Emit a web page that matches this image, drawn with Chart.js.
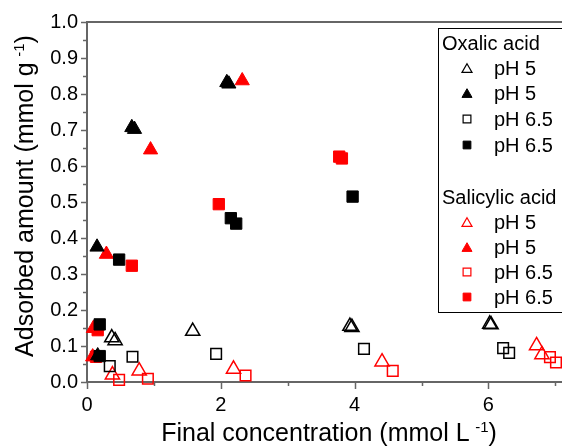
<!DOCTYPE html>
<html><head><meta charset="utf-8">
<script src="https://cdn.jsdelivr.net/npm/chart.js@4"></script>
<style>html,body{margin:0;padding:0;background:#fff}#wrap{width:562px;height:448px;position:relative}</style>
</head><body><div id="wrap"><canvas id="c" width="562" height="448"></canvas></div>
<script>
// ---- data ----
const xTickLabels = ['0', '2', '4', '6'];
const yTickLabels = ['0.0','0.1','0.2','0.3','0.4','0.5','0.6','0.7','0.8','0.9','1.0'];
const xTitle = 'Final concentration (mmol L';
const yTitle = 'Adsorbed amount (mmol g';
const titleSup = '-1';
const legendGroups = ['Oxalic acid', 'Salicylic acid'];
const seriesLabels = ['pH 5', 'pH 5', 'pH 6.5', 'pH 6.5'];

const oxPH5OpenX   = [0.37, 0.42, 1.58, 3.93, 3.96, 6.02, 6.04];
const oxPH5OpenY   = [0.123, 0.115, 0.141, 0.155, 0.152, 0.161, 0.159];
const oxPH5FillX   = [0.16, 0.15, 0.67, 0.71, 2.09, 2.12];
const oxPH5FillY   = [0.073, 0.375, 0.707, 0.702, 0.832, 0.828];
const oxPH65OpenX  = [0.34, 0.68, 1.93, 4.14, 6.22, 6.31];
const oxPH65OpenY  = [0.044, 0.070, 0.078, 0.092, 0.094, 0.081];
const oxPH65FillX  = [0.19, 0.19, 0.48, 2.15, 2.23, 3.97];
const oxPH65FillY  = [0.160, 0.072, 0.340, 0.455, 0.440, 0.515];

const saPH5OpenX   = [0.38, 0.78, 2.19, 4.41, 6.72, 6.80];
const saPH5OpenY   = [0.020, 0.031, 0.036, 0.056, 0.101, 0.076];
const saPH5FillX   = [0.085, 0.095, 0.29, 0.95, 2.32];
const saPH5FillY   = [0.070, 0.149, 0.355, 0.645, 0.837];
const saPH65OpenX  = [0.48, 0.91, 2.37, 4.57, 6.92, 7.01];
const saPH65OpenY  = [0.006, 0.009, 0.018, 0.031, 0.069, 0.054];
const saPH65FillX  = [0.135, 0.16, 0.67, 1.97, 3.77, 3.81];
const saPH65FillY  = [0.070, 0.144, 0.323, 0.494, 0.626, 0.621];

// ---- styling ----
const FONT = '"Liberation Sans", Arial, sans-serif';
const AXIS = '#666666';
const BLACK = '#000000';
const RED = '#ff0000';
const NONE = 'rgba(0,0,0,0)';

function pts(xs, ys) { return xs.map((x, i) => ({ x: x, y: ys[i] })); }

function ds(label, xs, ys, style, color, filled) {
  const r = style === 'triangle' ? 8.2 : (filled ? 8 : 7.5);
  return {
    label: label,
    data: pts(xs, ys),
    showLine: false,
    pointStyle: style,
    pointRadius: r,
    pointHoverRadius: r,
    pointBorderWidth: filled ? 1 : 1.5,
    borderColor: color,
    backgroundColor: filled ? color : NONE,
    clip: false
  };
}

const datasets = [
  ds('Oxalic acid ' + seriesLabels[0], oxPH5OpenX, oxPH5OpenY, 'triangle', BLACK, false),
  ds('Oxalic acid ' + seriesLabels[1], oxPH5FillX, oxPH5FillY, 'triangle', BLACK, true),
  ds('Oxalic acid ' + seriesLabels[2], oxPH65OpenX, oxPH65OpenY, 'rect', BLACK, false),
  ds('Oxalic acid ' + seriesLabels[3], oxPH65FillX, oxPH65FillY, 'rect', BLACK, true),
  ds('Salicylic acid ' + seriesLabels[0], saPH5OpenX, saPH5OpenY, 'triangle', RED, false),
  ds('Salicylic acid ' + seriesLabels[1], saPH5FillX, saPH5FillY, 'triangle', RED, true),
  ds('Salicylic acid ' + seriesLabels[2], saPH65OpenX, saPH65OpenY, 'rect', RED, false),
  ds('Salicylic acid ' + seriesLabels[3], saPH65FillX, saPH65FillY, 'rect', RED, true)
];

function drawSupTitle(ctx, main, sup, x, y, rotate) {
  ctx.save();
  ctx.translate(x, y);
  if (rotate) ctx.rotate(-Math.PI / 2);
  ctx.fillStyle = '#000';
  ctx.textBaseline = 'alphabetic';
  ctx.textAlign = 'left';
  const big = '25px ' + FONT, small = '15px ' + FONT;
  ctx.font = big;
  const w1 = ctx.measureText(main).width;
  const wSp = ctx.measureText(' ').width * 0.8;
  const wClose = ctx.measureText(')').width;
  ctx.font = small;
  const wSup = ctx.measureText(sup).width;
  const total = w1 + wSp + wSup + wClose;
  let cx = -total / 2;
  ctx.font = big;
  ctx.fillText(main, cx, 0);
  cx += w1 + wSp;
  ctx.font = small;
  ctx.fillText(sup, cx, -9);
  cx += wSup;
  ctx.font = big;
  ctx.fillText(')', cx, 0);
  ctx.restore();
}

const decoPlugin = {
  id: 'deco',
  afterDraw(chart) {
    const ctx = chart.ctx, a = chart.chartArea;
    const xs = chart.scales.x, ys = chart.scales.y;
    ctx.save();
    ctx.strokeStyle = AXIS;
    ctx.lineWidth = 2;
    // top frame line
    ctx.beginPath(); ctx.moveTo(a.left - 1, a.top); ctx.lineTo(a.right, a.top); ctx.stroke();
    ctx.lineWidth = 1.5;
    // x ticks (major every 2, minor every 1)
    for (let v = 0; v <= 7; v += 1) {
      const px = Math.round(xs.getPixelForValue(v)) + 0.5;
      const len = (v % 2 === 0) ? 7 : 4;
      ctx.beginPath(); ctx.moveTo(px, a.bottom); ctx.lineTo(px, a.bottom + len); ctx.stroke();
    }
    // y ticks (major every 0.1, minor every 0.05)
    for (let i = 0; i <= 20; i++) {
      const py = Math.round(ys.getPixelForValue(i * 0.05)) + 0.5;
      const len = (i % 2 === 0) ? 6 : 4;
      ctx.beginPath(); ctx.moveTo(a.left, py); ctx.lineTo(a.left - len, py); ctx.stroke();
    }
    ctx.restore();

    // axis titles
    drawSupTitle(ctx, xTitle, titleSup, 329, 441, false);
    drawSupTitle(ctx, yTitle, titleSup, 33, 196, true);

    // legend box
    ctx.save();
    ctx.strokeStyle = '#000';
    ctx.lineWidth = 1;
    ctx.strokeRect(438.5, 28.5, 140, 284);
    ctx.fillStyle = '#000';
    ctx.font = '20px ' + FONT;
    ctx.textBaseline = 'alphabetic';
    ctx.textAlign = 'left';
    const groupY = [42.5, 196.5];
    const rowY = [[68, 93, 119, 145], [222, 247, 272, 297]];
    const colors = [BLACK, RED];
    const styles = ['triangle', 'triangle', 'rect', 'rect'];
    const filled = [false, true, false, true];
    for (let g = 0; g < 2; g++) {
      ctx.fillStyle = '#000';
      ctx.fillText(legendGroups[g], 442, groupY[g] + 7);
      for (let r = 0; r < 4; r++) {
        const cy = rowY[g][r];
        ctx.fillStyle = '#000';
        ctx.fillText(seriesLabels[r], 494, cy + 7);
        ctx.save();
        ctx.fillStyle = filled[r] ? colors[g] : NONE;
        ctx.strokeStyle = colors[g];
        ctx.lineWidth = filled[r] ? 1 : 1.2;
        const isTri = styles[r] === 'triangle';
        Chart.helpers.drawPoint(ctx, {
          pointStyle: styles[r], rotation: 0,
          radius: isTri ? 5.8 : 5.5,
          borderWidth: filled[r] ? 1 : 1.2
        }, 467, cy + (isTri ? 1.5 : 0));
        ctx.restore();
      }
    }
    ctx.restore();
  }
};

new Chart(document.getElementById('c'), {
  type: 'scatter',
  data: { datasets: datasets },
  options: {
    responsive: false,
    devicePixelRatio: 1,
    animation: false,
    layout: { autoPadding: false, padding: { top: 22, right: 0, left: 0, bottom: 0 } },
    plugins: { legend: { display: false }, tooltip: { enabled: false } },
    scales: {
      x: {
        type: 'linear', position: 'bottom', min: 0, max: 7.1,
        grid: { display: false, drawTicks: false },
        border: { display: true, color: AXIS, width: 2 },
        ticks: {
          stepSize: 2, includeBounds: false, maxRotation: 0, autoSkip: false,
          padding: 11, color: '#000', font: { family: FONT, size: 20 },
          callback: (v, i) => xTickLabels[i]
        },
        afterFit: (s) => { s.height = 66; s.paddingLeft = 0; s.paddingRight = 0; }
      },
      y: {
        type: 'linear', position: 'left', min: 0, max: 1.0,
        grid: { display: false, drawTicks: false },
        border: { display: true, color: AXIS, width: 2 },
        ticks: {
          stepSize: 0.1, includeBounds: false, autoSkip: false,
          padding: 9, color: '#000', font: { family: FONT, size: 20 },
          callback: (v, i) => yTickLabels[i]
        },
        afterFit: (s) => { s.width = 87; s.paddingTop = 0; s.paddingBottom = 0; }
      }
    }
  },
  plugins: [decoPlugin]
});
</script>
</body></html>
